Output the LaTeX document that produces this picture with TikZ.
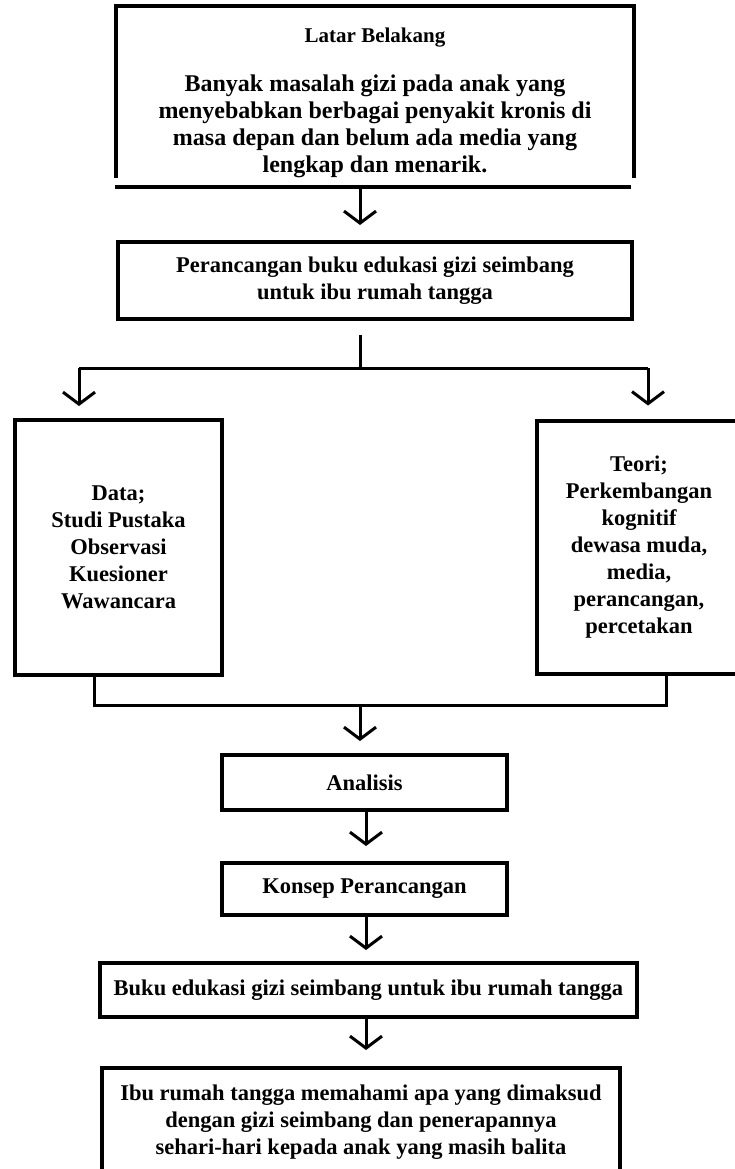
\documentclass[tikz,border=0pt]{standalone}
\usepackage{fontspec}
\setmainfont{Liberation Serif}
\usetikzlibrary{arrows.meta,calc}

\tikzset{
  kotak/.style={draw, line width=4pt, inner sep=0pt, align=center, font=\bfseries\fontsize{22.5}{27}\selectfont},
  garis/.style={line width=3pt},
  panah/.style={line width=3pt, -{Straight Barb[length=12pt,width=32pt]}},
}

\begin{document}
\begin{tikzpicture}[x=1pt,y=1pt,yscale=-1,xscale=1]
\useasboundingbox (0,0) rectangle (734,1169);

% axis of the connectors
\coordinate (poros) at (360,0);
\coordinate (poros2) at (366,0);

%Shape: Rectangle, open at the bottom
\node[kotak, draw=none, minimum width=514pt, minimum height=168pt] (latar) at (375,92) {};
\draw[line width=4pt] (latar.south west) -- (latar.north west) -- (latar.north east) -- (latar.south east);
\draw[line width=4pt] ($(latar.south west)+(-1,9)$) -- ($(latar.south east)+(-3,9)$);
% Text Node
\node[kotak, draw=none, font=\bfseries\fontsize{24}{27}\selectfont] (latarteks) at ($(latar.center)+(0,11)$) {{\fontsize{21}{23}\selectfont Latar Belakang}\\[22pt]
  Banyak masalah gizi pada anak yang\\
  menyebabkan berbagai penyakit kronis di\\
  masa depan dan belum ada media yang\\
  lengkap dan menarik.};

%Shape: Rectangle
\node[kotak, minimum width=514pt, minimum height=77pt] (rancang) at (375,280.5) {Perancangan buku edukasi gizi seimbang\\untuk ibu rumah tangga};
%Shape: Rectangle
\node[kotak, minimum width=207pt, minimum height=255pt] (data) at (118.5,547.5) {Data;\\Studi Pustaka\\Observasi\\Kuesioner\\Wawancara};
%Shape: Rectangle
\node[kotak, minimum width=204pt, minimum height=253pt] (teori) at (639,547) {Teori;\\Perkembangan\\kognitif\\dewasa muda,\\media,\\perancangan,\\percetakan};
%Shape: Rectangle
\node[kotak, minimum width=285pt, minimum height=55pt] (analisis) at (364.5,782.5) {Analisis};
%Shape: Rectangle
\node[kotak, minimum width=285pt, minimum height=52pt] (konsep) at (364.5,889) {Konsep Perancangan};
%Shape: Rectangle
\node[kotak, minimum width=537pt, minimum height=54pt] (buku) at (368.5,990) {Buku edukasi gizi seimbang untuk ibu rumah tangga};
%Shape: Rectangle
\node[kotak, minimum width=518pt, minimum height=108pt] (hasil) at (361,1122) {Ibu rumah tangga memahami apa yang dimaksud\\dengan gizi seimbang dan penerapannya\\sehari-hari kepada anak yang masih balita};

%Straight Lines
\draw[panah, shorten >=15pt] ($(latar.south -| poros)+(0,9)$) -- (rancang.north -| poros);

%Straight Lines: split
\coordinate (cabang) at (360,368);
\coordinate (cabangkiri) at (79,368);
\coordinate (cabangkanan) at (648,368);
\draw[garis] ($(rancang.south -| poros)+(0,14)$) -- (cabang);
\draw[garis] (cabangkiri) -- (cabangkanan);
\draw[panah, shorten >=12pt] (cabangkiri) -- (data.north -| cabangkiri);
\draw[panah, shorten >=13pt] (cabangkanan) -- (teori.north -| cabangkanan);

%Straight Lines: join
\coordinate (gabkiri) at (94,705);
\coordinate (gabkanan) at (666,705);
\coordinate (gabung) at (360,705);
\draw[garis] (data.south -| gabkiri) -- (gabkiri) -- (gabkanan) -- (teori.south -| gabkanan);
\draw[panah, shorten >=12pt] (gabung) -- (analisis.north -| gabung);

%Straight Lines
\draw[panah, shorten >=15pt] (analisis.south -| poros2) -- (konsep.north -| poros2);
\draw[panah, shorten >=11pt] (konsep.south -| poros2) -- (buku.north -| poros2);
\draw[panah, shorten >=16pt] (buku.south -| poros2) -- (hasil.north -| poros2);

\end{tikzpicture}
\end{document}
